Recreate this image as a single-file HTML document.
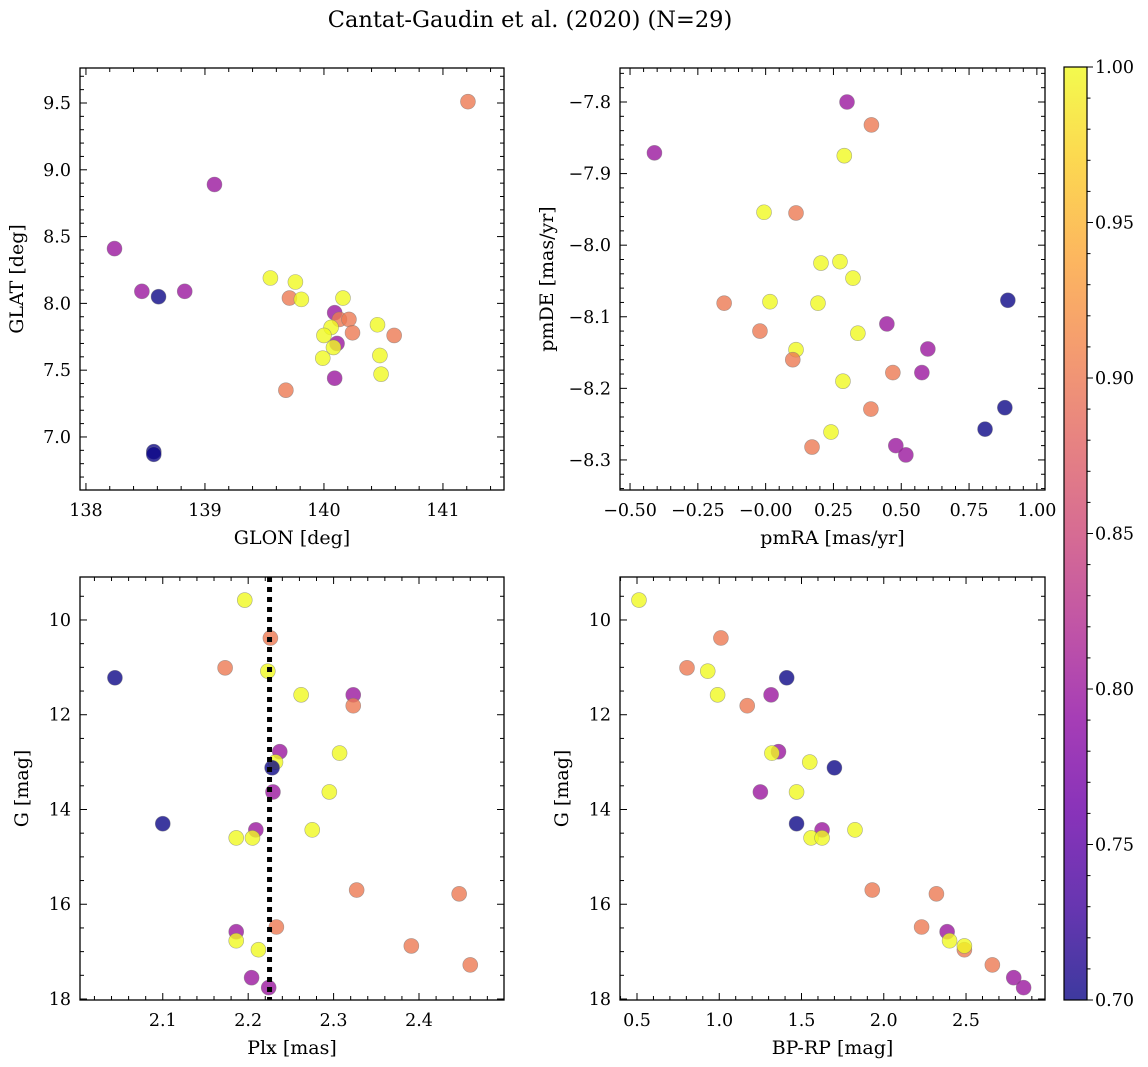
<!DOCTYPE html>
<html><head><meta charset="utf-8"><style>
body{margin:0;background:#fff}
svg{display:block;font-family:"DejaVu Serif","Liberation Serif",serif}
</style></head><body>
<svg id="c" width="1148" height="1067">
<defs><linearGradient id="cg" x1="0" y1="1" x2="0" y2="0">
<stop offset="0" stop-color="#0d0887"/><stop offset="0.1" stop-color="#41049d"/><stop offset="0.2" stop-color="#6a00a8"/><stop offset="0.3" stop-color="#8f0da4"/><stop offset="0.4" stop-color="#b12a90"/><stop offset="0.5" stop-color="#cc4778"/><stop offset="0.6" stop-color="#e16462"/><stop offset="0.7" stop-color="#f2844b"/><stop offset="0.8" stop-color="#fca636"/><stop offset="0.9" stop-color="#fcce25"/><stop offset="1" stop-color="#f0f921"/></linearGradient></defs>
<text x="530" y="27" font-size="22.5" text-anchor="middle">Cantat-Gaudin et al. (2020) (N=29)</text>
</svg>
<script>
// Panel 1: GLON vs GLAT
const glon=[141.21,139.08,138.24,138.47,138.83,138.61,139.55,139.76,139.71,139.81,140.16,140.09,140.13,140.21,140.24,140.45,140.59,140.06,140.00,140.11,140.08,139.99,140.47,140.48,140.09,139.68,138.57,138.57];
const glat=[9.51,8.89,8.41,8.09,8.09,8.05,8.19,8.16,8.04,8.03,8.04,7.93,7.88,7.88,7.78,7.84,7.76,7.82,7.76,7.70,7.67,7.59,7.61,7.47,7.44,7.35,6.89,6.87];
const prob1=[0.9,0.8,0.8,0.8,0.8,0.7,1,1,0.9,1,1,0.8,0.9,0.9,0.9,1,0.9,1,1,0.8,1,1,1,1,0.8,0.9,0.7,0.7];
// Panel 2: pmRA vs pmDE
const pmra=[0.30,0.39,-0.41,0.29,-0.006,0.112,0.204,0.274,0.322,-0.153,0.016,0.193,0.893,0.447,-0.021,0.340,0.598,0.112,0.10,0.469,0.576,0.285,0.388,0.882,0.809,0.241,0.171,0.480,0.517];
const pmde=[-7.80,-7.832,-7.871,-7.875,-7.954,-7.955,-8.025,-8.023,-8.046,-8.081,-8.079,-8.081,-8.077,-8.110,-8.120,-8.123,-8.145,-8.146,-8.160,-8.178,-8.178,-8.19,-8.229,-8.227,-8.257,-8.261,-8.282,-8.280,-8.293];
const prob2=[0.8,0.9,0.8,1,1,0.9,1,1,1,0.9,1,1,0.7,0.8,0.9,1,0.8,1,0.9,0.9,0.8,1,0.9,0.7,0.7,1,0.9,0.8,0.8];
// Panel 3: Plx vs G
const plx=[2.196,2.226,2.173,2.223,2.044,2.262,2.323,2.323,2.237,2.307,2.232,2.228,2.229,2.295,2.10,2.209,2.275,2.186,2.205,2.327,2.447,2.186,2.233,2.186,2.212,2.391,2.204,2.460,2.224];
const gmag3=[9.58,10.38,11.01,11.08,11.22,11.58,11.58,11.81,12.78,12.81,13.0,13.12,13.63,13.63,14.30,14.43,14.43,14.60,14.60,15.70,15.78,16.58,16.48,16.77,16.96,16.88,17.55,17.28,17.76];
const prob3=[1,0.9,0.9,1,0.7,1,0.8,0.9,0.8,1,1,0.7,0.8,1,0.7,0.8,1,1,1,0.9,0.9,0.8,0.9,1,1,0.9,0.8,0.9,0.8];
const plxMean=2.225;
// Panel 4: BP-RP vs G
const bprp=[0.512,1.01,0.804,0.93,1.41,0.99,1.315,1.17,1.36,1.32,1.55,1.70,1.25,1.47,1.47,1.625,1.825,1.558,1.625,1.93,2.32,2.385,2.23,2.40,2.49,2.49,2.66,2.79,2.85];
const gmag4=[9.58,10.38,11.01,11.08,11.22,11.58,11.58,11.81,12.78,12.81,13.0,13.12,13.63,13.63,14.30,14.43,14.43,14.60,14.60,15.70,15.78,16.58,16.48,16.77,16.96,16.88,17.28,17.55,17.76];
const prob4=[1,0.9,0.9,1,0.7,1,0.8,0.9,0.8,1,1,0.7,0.8,1,0.7,0.8,1,1,1,0.9,0.9,0.8,0.9,1,0.9,1,0.9,0.8,0.8];
const cbTicks=["0.70","0.75","0.80","0.85","0.90","0.95","1.00"];

const NS="http://www.w3.org/2000/svg";
const svg=document.getElementById('c');
function mk(tag,attrs,parent){const e=document.createElementNS(NS,tag);for(const k in attrs)e.setAttribute(k,attrs[k]);(parent||svg).appendChild(e);return e;}
const stops=[[13,8,135],[65,4,157],[106,0,168],[143,13,164],[177,42,144],[204,71,120],[225,100,98],[242,132,75],[252,166,54],[252,206,37],[240,249,33]];
function cmap(v){let t=(v-0.7)/0.3;t=Math.max(0,Math.min(1,t))*10;const i=Math.min(9,Math.floor(t)),f=t-i;const a=stops[i],b=stops[i+1];return 'rgb('+a.map((x,k)=>Math.round(x+(b[k]-x)*f)).join(',')+')';}
function fmt(v,d){return (v<0?'\u2212':'')+Math.abs(v).toFixed(d);}
const FS=17.5, LS=19;

function panel(name,L,T,R,B,xr,yr,xMaj,xMin,yMaj,yMin,xd,yd,xlab,ylab,ylx,xs,ys,ps){
  const sx=v=>L+(v-xr[0])/(xr[1]-xr[0])*(R-L);
  const sy=v=>T+(yr[1]-v)/(yr[1]-yr[0])*(B-T);
  const g=mk('g',{});
  
  
  const lo=Math.min(xr[0],xr[1]),hi=Math.max(xr[0],xr[1]);
  for(let v=Math.ceil(lo/xMin-1e-6)*xMin;v<=hi+1e-9;v+=xMin){const x=sx(v);const maj=Math.abs(v/xMaj-Math.round(v/xMaj))<1e-6;const len=maj?7:4;
    mk('line',{x1:x,x2:x,y1:B,y2:B-len,stroke:'#000','stroke-width':1},g);mk('line',{x1:x,x2:x,y1:T,y2:T+len,stroke:'#000','stroke-width':1},g);
    if(maj){const t=mk('text',{x:x,y:B+26,'font-size':FS,'text-anchor':'middle'},g);t.textContent=fmt(v,xd);}}
  const ylo=Math.min(yr[0],yr[1]),yhi=Math.max(yr[0],yr[1]);
  for(let v=Math.ceil(ylo/yMin-1e-6)*yMin;v<=yhi+1e-9;v+=yMin){const y=sy(v);const maj=Math.abs(v/yMaj-Math.round(v/yMaj))<1e-6;const len=maj?7:4;
    mk('line',{x1:L,x2:L+len,y1:y,y2:y,stroke:'#000','stroke-width':1},g);mk('line',{x1:R,x2:R-len,y1:y,y2:y,stroke:'#000','stroke-width':1},g);
    if(maj){const t=mk('text',{x:L-9,y:y+6,'font-size':FS,'text-anchor':'end'},g);t.textContent=fmt(v,yd);}}
  const xl=mk('text',{x:(L+R)/2,y:B+54,'font-size':LS,'text-anchor':'middle'},g);xl.textContent=xlab;
  
  
  const yl=mk('text',{x:0,y:0,'font-size':LS,'text-anchor':'middle',transform:'translate('+(ylx+6)+','+((T+B)/2)+') rotate(-90)'},g);yl.textContent=ylab;
  
  
  for(let i=0;i<xs.length;i++){const c=mk('circle',{cx:sx(xs[i]),cy:sy(ys[i]),r:7.5,fill:cmap(ps[i]),'fill-opacity':0.8,stroke:'#777','stroke-opacity':0.6,'stroke-width':0.6},g);
    
    }
  const f=mk('rect',{x:L,y:T,width:R-L,height:B-T,fill:'none',stroke:'#000','stroke-width':1.3},g);
  
  
  return {sx,sy,g};
}
panel('glon-glat-panel',80,68,504,490,[137.95,141.513],[6.603,9.762],1,0.2,0.5,0.1,0,1,'GLON [deg]','GLAT [deg]',17,glon,glat,prob1);
panel('pm-panel',620,68,1045,490,[-0.537,1.03],[-8.342,-7.7525],0.25,0.05,0.1,0.02,2,1,'pmRA [mas/yr]','pmDE [mas/yr]',547,pmra,pmde,prob2);
const p3=panel('plx-g-panel',80,577,504,1000,[2.0031,2.4995],[18.021,9.093],0.1,0.02,2,0.5,1,0,'Plx [mas]','G [mag]',22,plx,gmag3,prob3);
const vl=mk('line',{x1:p3.sx(plxMean),x2:p3.sx(plxMean),y1:577,y2:1000,stroke:'#000','stroke-width':5,'stroke-dasharray':'5 5'},p3.g);


panel('cmd-panel',620,577,1045,1000,[0.3967,2.98],[18.021,9.093],0.5,0.1,2,0.5,1,0,'BP-RP [mag]','G [mag]',562,bprp,gmag4,prob4);

// colorbar
const cb=mk('g',{});


mk('rect',{x:1064,y:67,width:23,height:933,fill:'url(#cg)','fill-opacity':0.8},cb);
mk('rect',{x:1064,y:67,width:23,height:933,fill:'none',stroke:'#000','stroke-width':1.2},cb);
const cy=v=>1000-(v-0.7)/0.3*933;
for(let k=0;k<=30;k++){const v=0.7+k*0.01;const y=cy(v);const maj=k%5==0;
  mk('line',{x1:1087,x2:1087+(maj?6:3.5),y1:y,y2:y,stroke:'#000','stroke-width':1},cb);}
cbTicks.forEach(s=>{const t=mk('text',{x:1095,y:cy(parseFloat(s))+6,'font-size':FS},cb);t.textContent=s;
  
  });
</script>
</body></html>
